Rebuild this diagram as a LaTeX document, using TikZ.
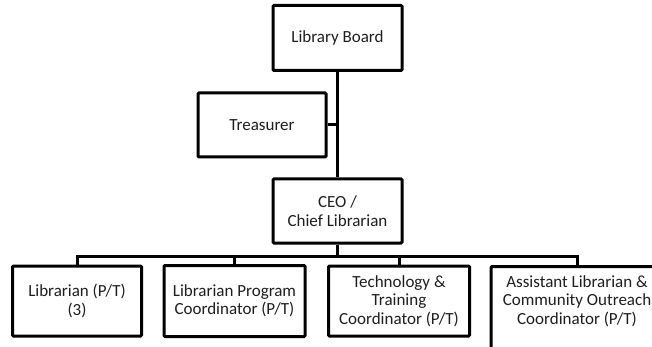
\documentclass[tikz,border=0pt]{standalone}
\usepackage{fontspec}
\setmainfont{Carlito}
\begin{document}
\begin{tikzpicture}[x=1pt,y=-1pt,
  box/.style={draw=black, line width=3pt, rounded corners=1pt, fill=white,
    align=center, inner sep=0pt, font=\fontsize{17}{18.5}\selectfont, text=black!88},
  link/.style={draw=black, line width=3pt}]
\useasboundingbox (0,0) rectangle (652,347);

% upper chain
\node[box, minimum width=129, minimum height=65] (board) at (337.5,38) {Library Board};
\node[box, minimum width=128, minimum height=64] (treas) at (262,125) {Treasurer};
\node[box, minimum width=129, minimum height=64] (ceo) at (337.5,211) {CEO /\\Chief Librarian};

% staff row
\node[box, minimum width=129, minimum height=70] (lib) at (77,301) {Librarian (P/T)\\(3)};
\node[box, minimum width=141, minimum height=71] (prog) at (234.5,301) {Librarian Program\\Coordinator (P/T)};
\node[box, minimum width=141, minimum height=70] (tech) at (399,301) {Technology \&\\Training\\Coordinator (P/T)};
\node[box, minimum width=172, minimum height=100, anchor=north] (asst) at (577,265) {};
\node[align=center, inner sep=0pt, font=\fontsize{17}{18.5}\selectfont, text=black!88] (asstt) at (577,301)
  {Assistant Librarian \&\\Community Outreach\\Coordinator (P/T)};

% connectors
\coordinate (bus) at (337.5,256);
\begin{scope}[on background layer/.try]
\end{scope}
\draw[link] (board.south) -- (ceo.north);
\draw[link] (treas.east) -- (treas.east -| board.south);
\draw[link] (ceo.south) -- (bus);
\draw[link] (lib.north) |- (bus) -| (asst.north);
\draw[link] (prog.north) -- (prog.north |- bus);
\draw[link] (tech.north) -- (tech.north |- bus);
\end{tikzpicture}
\end{document}
